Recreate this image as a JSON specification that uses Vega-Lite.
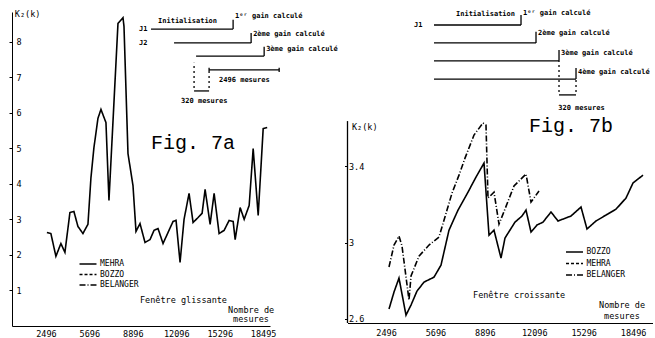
{
  "$schema": "https://vega.github.io/schema/vega-lite/v6.json",
  "background": "white",
  "padding": {"left": 8, "top": 8, "right": 0, "bottom": 0},
  "autosize": {"type": "pad"},
  "spacing": 77.5,
  "bounds": "flush",
  "config": {
    "view": {"stroke": null},
    "font": "DejaVu Sans Mono",
    "axis": {"grid": false, "domainColor": "black", "tickColor": "black", "labelColor": "black", "labelFont": "DejaVu Sans Mono", "labelFontSize": 8.5, "title": null},
    "legend": {"orient": "none", "symbolType": "M-2,0H2", "symbolStrokeColor": "black", "symbolFillColor": "transparent", "symbolStrokeWidth": 1.4, "symbolSize": 72, "labelFont": "DejaVu Sans Mono", "labelFontSize": 8, "labelColor": "black", "rowPadding": 1.5, "padding": 0, "labelOffset": 7, "title": null}
  },
  "resolve": {"scale": {"strokeDash": "independent"}, "legend": {"strokeDash": "independent"}},
  "datasets": {
    "a_lines": [
      {"n": 2570, "k2": 2.63, "serie": "MEHRA"}, {"n": 2864, "k2": 2.60, "serie": "MEHRA"}, {"n": 3233, "k2": 1.96, "serie": "MEHRA"},
      {"n": 3602, "k2": 2.32, "serie": "MEHRA"}, {"n": 3897, "k2": 2.07, "serie": "MEHRA"}, {"n": 4265, "k2": 3.19, "serie": "MEHRA"},
      {"n": 4560, "k2": 3.22, "serie": "MEHRA"}, {"n": 4855, "k2": 2.80, "serie": "MEHRA"}, {"n": 5224, "k2": 2.60, "serie": "MEHRA"},
      {"n": 5593, "k2": 2.86, "serie": "MEHRA"}, {"n": 5814, "k2": 4.17, "serie": "MEHRA"}, {"n": 6035, "k2": 5.02, "serie": "MEHRA"},
      {"n": 6330, "k2": 5.84, "serie": "MEHRA"}, {"n": 6551, "k2": 6.09, "serie": "MEHRA"}, {"n": 6920, "k2": 5.72, "serie": "MEHRA"},
      {"n": 7141, "k2": 3.53, "serie": "MEHRA"}, {"n": 7805, "k2": 8.51, "serie": "MEHRA"}, {"n": 8174, "k2": 8.67, "serie": "MEHRA"},
      {"n": 8248, "k2": 8.42, "serie": "MEHRA"}, {"n": 8541, "k2": 4.85, "serie": "MEHRA"}, {"n": 8910, "k2": 3.95, "serie": "MEHRA"},
      {"n": 9131, "k2": 2.66, "serie": "MEHRA"}, {"n": 9427, "k2": 2.88, "serie": "MEHRA"}, {"n": 9795, "k2": 2.35, "serie": "MEHRA"},
      {"n": 10164, "k2": 2.43, "serie": "MEHRA"}, {"n": 10459, "k2": 2.69, "serie": "MEHRA"}, {"n": 10754, "k2": 2.74, "serie": "MEHRA"},
      {"n": 11123, "k2": 2.32, "serie": "MEHRA"}, {"n": 11491, "k2": 2.63, "serie": "MEHRA"}, {"n": 11860, "k2": 2.94, "serie": "MEHRA"},
      {"n": 12081, "k2": 2.97, "serie": "MEHRA"}, {"n": 12376, "k2": 1.79, "serie": "MEHRA"}, {"n": 12671, "k2": 3.00, "serie": "MEHRA"},
      {"n": 13040, "k2": 3.73, "serie": "MEHRA"}, {"n": 13335, "k2": 2.91, "serie": "MEHRA"}, {"n": 13704, "k2": 3.05, "serie": "MEHRA"},
      {"n": 14000, "k2": 3.17, "serie": "MEHRA"}, {"n": 14221, "k2": 3.84, "serie": "MEHRA"}, {"n": 14590, "k2": 2.86, "serie": "MEHRA"},
      {"n": 14885, "k2": 3.73, "serie": "MEHRA"}, {"n": 15253, "k2": 2.60, "serie": "MEHRA"}, {"n": 15622, "k2": 2.69, "serie": "MEHRA"},
      {"n": 15991, "k2": 2.97, "serie": "MEHRA"}, {"n": 16286, "k2": 2.94, "serie": "MEHRA"}, {"n": 16434, "k2": 2.43, "serie": "MEHRA"},
      {"n": 16802, "k2": 3.33, "serie": "MEHRA"}, {"n": 17097, "k2": 3.00, "serie": "MEHRA"}, {"n": 17466, "k2": 3.39, "serie": "MEHRA"},
      {"n": 17761, "k2": 4.99, "serie": "MEHRA"}, {"n": 18130, "k2": 3.11, "serie": "MEHRA"}, {"n": 18498, "k2": 5.55, "serie": "MEHRA"},
      {"n": 18793, "k2": 5.58, "serie": "MEHRA"}
    ],
    "b_lines": [
      {"n": 2688, "k2": 2.652, "serie": "BOZZO"}, {"n": 3012, "k2": 2.741, "serie": "BOZZO"}, {"n": 3335, "k2": 2.814, "serie": "BOZZO"},
      {"n": 3789, "k2": 2.620, "serie": "BOZZO"}, {"n": 4113, "k2": 2.673, "serie": "BOZZO"}, {"n": 4501, "k2": 2.746, "serie": "BOZZO"},
      {"n": 4955, "k2": 2.793, "serie": "BOZZO"}, {"n": 5602, "k2": 2.819, "serie": "BOZZO"}, {"n": 6056, "k2": 2.882, "serie": "BOZZO"},
      {"n": 6574, "k2": 3.065, "serie": "BOZZO"}, {"n": 7157, "k2": 3.170, "serie": "BOZZO"}, {"n": 7805, "k2": 3.264, "serie": "BOZZO"},
      {"n": 8323, "k2": 3.343, "serie": "BOZZO"}, {"n": 8841, "k2": 3.416, "serie": "BOZZO"}, {"n": 9165, "k2": 3.039, "serie": "BOZZO"},
      {"n": 9488, "k2": 3.065, "serie": "BOZZO"}, {"n": 9942, "k2": 2.919, "serie": "BOZZO"}, {"n": 10201, "k2": 3.024, "serie": "BOZZO"},
      {"n": 10848, "k2": 3.107, "serie": "BOZZO"}, {"n": 11302, "k2": 3.139, "serie": "BOZZO"}, {"n": 11561, "k2": 3.170, "serie": "BOZZO"},
      {"n": 11885, "k2": 3.055, "serie": "BOZZO"}, {"n": 12273, "k2": 3.092, "serie": "BOZZO"}, {"n": 12662, "k2": 3.107, "serie": "BOZZO"},
      {"n": 13180, "k2": 3.160, "serie": "BOZZO"}, {"n": 13634, "k2": 3.113, "serie": "BOZZO"}, {"n": 14475, "k2": 3.139, "serie": "BOZZO"},
      {"n": 15123, "k2": 3.186, "serie": "BOZZO"}, {"n": 15511, "k2": 3.071, "serie": "BOZZO"}, {"n": 16094, "k2": 3.113, "serie": "BOZZO"},
      {"n": 16742, "k2": 3.144, "serie": "BOZZO"}, {"n": 17390, "k2": 3.175, "serie": "BOZZO"}, {"n": 18037, "k2": 3.233, "serie": "BOZZO"},
      {"n": 18491, "k2": 3.312, "serie": "BOZZO"}, {"n": 19139, "k2": 3.353, "serie": "BOZZO"},
      {"n": 2688, "k2": 2.872, "serie": "BELANGER"}, {"n": 3012, "k2": 2.987, "serie": "BELANGER"}, {"n": 3335, "k2": 3.034, "serie": "BELANGER"},
      {"n": 3530, "k2": 2.982, "serie": "BELANGER"}, {"n": 3983, "k2": 2.699, "serie": "BELANGER"}, {"n": 4113, "k2": 2.825, "serie": "BELANGER"},
      {"n": 4631, "k2": 2.929, "serie": "BELANGER"}, {"n": 5278, "k2": 2.987, "serie": "BELANGER"}, {"n": 5926, "k2": 3.029, "serie": "BELANGER"},
      {"n": 6444, "k2": 3.170, "serie": "BELANGER"}, {"n": 6768, "k2": 3.259, "serie": "BELANGER"}, {"n": 7222, "k2": 3.353, "serie": "BELANGER"},
      {"n": 7610, "k2": 3.442, "serie": "BELANGER"}, {"n": 8193, "k2": 3.563, "serie": "BELANGER"}, {"n": 8776, "k2": 3.626, "serie": "BELANGER"},
      {"n": 8970, "k2": 3.615, "serie": "BELANGER"}, {"n": 9100, "k2": 3.233, "serie": "BELANGER"}, {"n": 9488, "k2": 3.264, "serie": "BELANGER"},
      {"n": 9812, "k2": 3.097, "serie": "BELANGER"}, {"n": 10071, "k2": 3.149, "serie": "BELANGER"}, {"n": 10783, "k2": 3.296, "serie": "BELANGER"},
      {"n": 11561, "k2": 3.359, "serie": "BELANGER"}, {"n": 11885, "k2": 3.212, "serie": "BELANGER"}, {"n": 12403, "k2": 3.270, "serie": "BELANGER"}
    ],
    "a_seg": [
      {"x": 10238, "x2": 16283, "y": 8.35, "y2": 8.35}, {"x": 16283, "x2": 16283, "y": 8.35, "y2": 8.61},
      {"x": 11934, "x2": 17610, "y": 7.96, "y2": 7.96}, {"x": 17610, "x2": 17610, "y": 7.96, "y2": 8.24},
      {"x": 13556, "x2": 18569, "y": 7.59, "y2": 7.59}, {"x": 18569, "x2": 18569, "y": 7.59, "y2": 7.85},
      {"x": 14514, "x2": 19675, "y": 7.20, "y2": 7.20}, {"x": 14514, "x2": 14514, "y": 7.14, "y2": 7.26},
      {"x": 19675, "x2": 19675, "y": 7.14, "y2": 7.26}, {"x": 13408, "x2": 14514, "y": 6.61, "y2": 6.61}
    ],
    "a_dot": [
      {"x": 13408, "x2": 13408, "y": 6.69, "y2": 7.40}, {"x": 14514, "x2": 14514, "y": 6.69, "y2": 7.14}
    ],
    "a_lab": [
      {"x": 9353, "y": 8.35, "t": "J1"}, {"x": 9353, "y": 7.96, "t": "J2"},
      {"x": 10754, "y": 8.58, "t": "Initialisation"},
      {"x": 16431, "y": 8.72, "t": "1ᵉʳ gain calculé"},
      {"x": 17758, "y": 8.21, "t": "2ème gain calculé"},
      {"x": 18716, "y": 7.79, "t": "3ème gain calculé"},
      {"x": 15251, "y": 6.92, "t": "2496 mesures"},
      {"x": 12450, "y": 6.33, "t": "320 mesures"}
    ],
    "a_txt": [
      {"x": 210, "y": 8.77, "t": "K₂(k)"},
      {"x": 9426, "y": 0.73, "t": "Fenêtre glissante"},
      {"x": 15915, "y": 0.45, "t": "Nombre de"},
      {"x": 16283, "y": 0.20, "t": "mesures"}
    ],
    "a_fig": [{"x": 10238, "y": 5.15, "t": "Fig. 7a"}],
    "b_seg": [
      {"x": 0, "x2": 0, "y": 2.579, "y2": 3.636},
      {"x": 5603, "x2": 11238, "y": 4.139, "y2": 4.139}, {"x": 11238, "x2": 11238, "y": 4.139, "y2": 4.191},
      {"x": 5603, "x2": 12209, "y": 4.045, "y2": 4.045}, {"x": 12209, "x2": 12209, "y": 4.045, "y2": 4.103},
      {"x": 5603, "x2": 13699, "y": 3.951, "y2": 3.951}, {"x": 13699, "x2": 13699, "y": 3.951, "y2": 4.008},
      {"x": 5603, "x2": 14800, "y": 3.856, "y2": 3.856}, {"x": 14800, "x2": 14800, "y": 3.856, "y2": 3.914},
      {"x": 13699, "x2": 14800, "y": 3.773, "y2": 3.773}
    ],
    "b_dot": [
      {"x": 13699, "x2": 13699, "y": 3.788, "y2": 3.951}, {"x": 14800, "x2": 14800, "y": 3.788, "y2": 3.856}
    ],
    "b_lab": [
      {"x": 4307, "y": 4.139, "t": "J1"},
      {"x": 7027, "y": 4.197, "t": "Initialisation"},
      {"x": 11367, "y": 4.202, "t": "1ᵉʳ gain calculé"},
      {"x": 12339, "y": 4.097, "t": "2ème gain calculé"},
      {"x": 13829, "y": 3.993, "t": "3ème gain calculé"},
      {"x": 14930, "y": 3.893, "t": "4ème gain calculé"},
      {"x": 13650, "y": 3.705, "t": "320 mesures"}
    ],
    "b_txt": [
      {"x": 291, "y": 3.605, "t": "K₂(k)"},
      {"x": 8129, "y": 2.726, "t": "Fenêtre croissante"},
      {"x": 16290, "y": 2.673, "t": "Nombre de"},
      {"x": 16614, "y": 2.616, "t": "mesures"}
    ],
    "b_fig": [{"x": 11756, "y": 3.610, "t": "Fig. 7b"}]
  },
  "hconcat": [
    {
      "width": 258,
      "height": 314,
      "layer": [
        {
          "data": {"name": "a_lines"},
          "mark": {"type": "line", "color": "black", "strokeWidth": 1.6},
          "encoding": {
            "x": {"field": "n", "type": "quantitative", "title": null, "scale": {"domain": [0, 19000], "nice": false, "zero": false},
                  "axis": {"values": [2496, 5696, 8896, 12096, 15296, 18495], "format": "d", "tickSize": 0, "labelPadding": 3}},
            "y": {"field": "k2", "type": "quantitative", "title": null, "scale": {"domain": [0, 8.83], "nice": false},
                  "axis": {"values": [1, 2, 3, 4, 5, 6, 7, 8], "tickSize": 3, "labelAlign": "left", "labelPadding": -7}},
            "strokeDash": {"field": "serie", "type": "nominal",
                  "scale": {"domain": ["MEHRA", "BOZZO", "BELANGER"], "range": [[1, 0], [3, 2], [6, 2, 1, 2]]},
                  "legend": {"legendX": 71, "legendY": 247}}
          }
        },
        {
          "data": {"name": "a_seg"},
          "mark": {"type": "rule", "color": "black", "strokeWidth": 1.3},
          "encoding": {"x": {"field": "x", "type": "quantitative", "title": null}, "x2": {"field": "x2"},
                       "y": {"field": "y", "type": "quantitative", "title": null}, "y2": {"field": "y2"}}
        },
        {
          "data": {"name": "a_dot"},
          "mark": {"type": "rule", "color": "black", "strokeWidth": 1.3, "strokeDash": [2, 3]},
          "encoding": {"x": {"field": "x", "type": "quantitative", "title": null}, "x2": {"field": "x2"},
                       "y": {"field": "y", "type": "quantitative", "title": null}, "y2": {"field": "y2"}}
        },
        {
          "data": {"name": "a_lab"},
          "mark": {"type": "text", "align": "left", "baseline": "middle", "fontSize": 7, "fontWeight": "bold", "color": "black"},
          "encoding": {"x": {"field": "x", "type": "quantitative", "title": null}, "y": {"field": "y", "type": "quantitative", "title": null}, "text": {"field": "t"}}
        },
        {
          "data": {"name": "a_txt"},
          "mark": {"type": "text", "align": "left", "baseline": "middle", "fontSize": 8.5, "color": "black"},
          "encoding": {"x": {"field": "x", "type": "quantitative", "title": null}, "y": {"field": "y", "type": "quantitative", "title": null}, "text": {"field": "t"}}
        },
        {
          "data": {"name": "a_fig"},
          "mark": {"type": "text", "align": "left", "baseline": "middle", "fontSize": 20, "font": "Liberation Mono", "color": "black"},
          "encoding": {"x": {"field": "x", "type": "quantitative", "title": null}, "y": {"field": "y", "type": "quantitative", "title": null}, "text": {"field": "t"}}
        }
      ]
    },
    {
      "width": 305.5,
      "height": 311,
      "layer": [
        {
          "data": {"name": "b_lines"},
          "mark": {"type": "line", "color": "black", "strokeWidth": 1.6},
          "encoding": {
            "x": {"field": "n", "type": "quantitative", "title": null, "scale": {"domain": [0, 19786], "nice": false, "zero": false},
                  "axis": {"values": [2496, 5696, 8896, 12096, 15296, 18496], "format": "d", "tickSize": 0, "labelPadding": 5}},
            "y": {"field": "k2", "type": "quantitative", "title": null, "scale": {"domain": [2.579, 4.207], "nice": false, "zero": false},
                  "axis": {"values": [2.6, 3, 3.4], "format": "~g", "domain": false, "tickSize": 3, "labelAlign": "left", "labelPadding": -4}},
            "strokeDash": {"field": "serie", "type": "nominal",
                  "scale": {"domain": ["BOZZO", "MEHRA", "BELANGER"], "range": [[1, 0], [3, 2], [6, 2, 1, 2]]},
                  "legend": {"legendX": 222, "legendY": 235, "rowPadding": 2.5}}
          }
        },
        {
          "data": {"name": "b_seg"},
          "mark": {"type": "rule", "color": "black", "strokeWidth": 1.3},
          "encoding": {"x": {"field": "x", "type": "quantitative", "title": null}, "x2": {"field": "x2"},
                       "y": {"field": "y", "type": "quantitative", "title": null}, "y2": {"field": "y2"}}
        },
        {
          "data": {"name": "b_dot"},
          "mark": {"type": "rule", "color": "black", "strokeWidth": 1.3, "strokeDash": [2, 3]},
          "encoding": {"x": {"field": "x", "type": "quantitative", "title": null}, "x2": {"field": "x2"},
                       "y": {"field": "y", "type": "quantitative", "title": null}, "y2": {"field": "y2"}}
        },
        {
          "data": {"name": "b_lab"},
          "mark": {"type": "text", "align": "left", "baseline": "middle", "fontSize": 7, "fontWeight": "bold", "color": "black"},
          "encoding": {"x": {"field": "x", "type": "quantitative", "title": null}, "y": {"field": "y", "type": "quantitative", "title": null}, "text": {"field": "t"}}
        },
        {
          "data": {"name": "b_txt"},
          "mark": {"type": "text", "align": "left", "baseline": "middle", "fontSize": 8.5, "color": "black"},
          "encoding": {"x": {"field": "x", "type": "quantitative", "title": null}, "y": {"field": "y", "type": "quantitative", "title": null}, "text": {"field": "t"}}
        },
        {
          "data": {"name": "b_fig"},
          "mark": {"type": "text", "align": "left", "baseline": "middle", "fontSize": 20, "font": "Liberation Mono", "color": "black"},
          "encoding": {"x": {"field": "x", "type": "quantitative", "title": null}, "y": {"field": "y", "type": "quantitative", "title": null}, "text": {"field": "t"}}
        }
      ]
    }
  ]
}
